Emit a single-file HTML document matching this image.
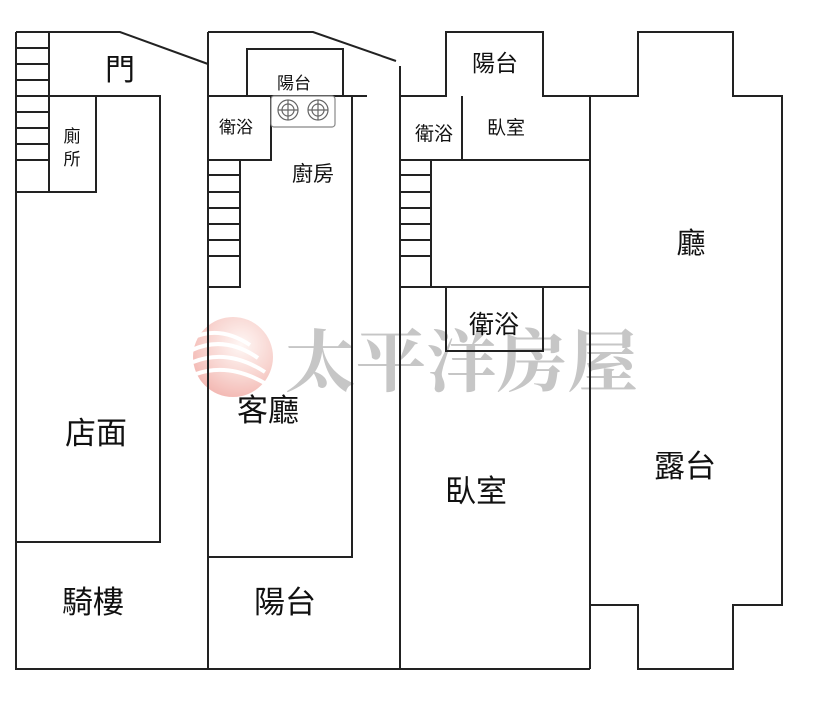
<!DOCTYPE html>
<html><head><meta charset="utf-8"><style>
html,body{margin:0;padding:0;background:#fff;width:830px;height:718px;overflow:hidden}
svg{display:block}
.t{font-family:"Liberation Sans","Noto Sans CJK TC",sans-serif;fill:#111;text-anchor:middle}
</style></head><body>
<svg width="830" height="718" viewBox="0 0 830 718" xmlns="http://www.w3.org/2000/svg">
<defs>
<radialGradient id="g" cx="0.6" cy="0.35" r="0.7">
<stop offset="0" stop-color="#fff5f2"/><stop offset="0.6" stop-color="#f6c6c0"/><stop offset="1" stop-color="#ef9f98"/>
</radialGradient>
</defs>
<!-- watermark -->
<g opacity="0.75">
<circle cx="233" cy="357" r="40" fill="url(#g)"/>
<g stroke="#fff" stroke-width="4" fill="none">
<path d="M192 338 Q220 325 250 345"/><path d="M192 350 Q225 335 258 358"/><path d="M193 362 Q228 348 265 372"/><path d="M196 374 Q230 362 268 385"/>
</g>
</g>
<text x="285" y="386" font-family="Liberation Serif,'Noto Serif CJK SC',serif" font-weight="bold" font-size="68" fill="#c6c6c6" textLength="353" lengthAdjust="spacingAndGlyphs">太平洋房屋</text>
<g stroke="#222" stroke-width="2" fill="none">
<!-- panel 1 -->
<path d="M16 32 H120 L208 64"/>
<path d="M16 32 V669 H590"/>
<path d="M49 32 V192"/>
<path d="M16 48H49M16 64H49M16 80H49M16 96H49M16 112H49M16 128H49M16 144H49M16 160H49"/>
<path d="M49 96 H160 V542 H16"/>
<path d="M96 96 V192 H16"/>
<!-- panel 2 -->
<path d="M208 32 V669"/>
<path d="M208 32 H313 L396 61"/>
<path d="M400 66 V669"/>
<path d="M247 96 V49 H343 V96"/>
<path d="M208 96 H367"/>
<path d="M208 160 H271 V96"/>
<path d="M240 160 V287 H208"/>
<path d="M208 175H240M208 192H240M208 208H240M208 224H240M208 240H240M208 256H240"/>
<path d="M352 96 V557 H208"/>
<!-- panel 3 -->
<path d="M400 96 H446 V32 H543 V96 H638 V32 H733 V96 H782 V605 H733 V669 H638 V605 H590"/>
<path d="M590 96 V669"/>
<path d="M400 160 H590"/>
<path d="M462 96 V160"/>
<path d="M431 160 V287"/>
<path d="M400 287 H590"/>
<path d="M400 175H431M400 192H431M400 208H431M400 224H431M400 240H431M400 256H431"/>
<path d="M446 287 V351 H543 V287"/>
</g>
<!-- stove -->
<rect x="271" y="96" width="64" height="31" rx="3" fill="#fff" stroke="#888" stroke-width="1.2"/>
<g stroke="#666" stroke-width="1.2" fill="none">
<circle cx="288" cy="110" r="10"/><circle cx="288" cy="110" r="6"/><path d="M278 110H298M288 100V120"/>
<circle cx="318" cy="110" r="10"/><circle cx="318" cy="110" r="6"/><path d="M308 110H328M318 100V120"/>
</g>
<!-- labels -->
<text class="t" x="120" y="80" font-size="30">門</text>
<text class="t" x="72" y="142" font-size="17">廁</text>
<text class="t" x="72" y="165" font-size="17">所</text>
<text class="t" x="294" y="89" font-size="17">陽台</text>
<text class="t" x="236" y="133" font-size="17">衛浴</text>
<text class="t" x="313" y="181" font-size="21">廚房</text>
<text class="t" x="96" y="444" font-size="31">店面</text>
<text class="t" x="268" y="421" font-size="31">客廳</text>
<text class="t" x="93" y="613" font-size="31">騎樓</text>
<text class="t" x="285" y="613" font-size="31">陽台</text>
<text class="t" x="495" y="71" font-size="23">陽台</text>
<text class="t" x="434" y="140" font-size="19">衛浴</text>
<text class="t" x="506" y="134" font-size="19">臥室</text>
<text class="t" x="494" y="333" font-size="25">衛浴</text>
<text class="t" x="476" y="502" font-size="31">臥室</text>
<text class="t" x="691" y="253" font-size="29">廳</text>
<text class="t" x="685" y="477" font-size="31">露台</text>
</svg>
</body></html>
